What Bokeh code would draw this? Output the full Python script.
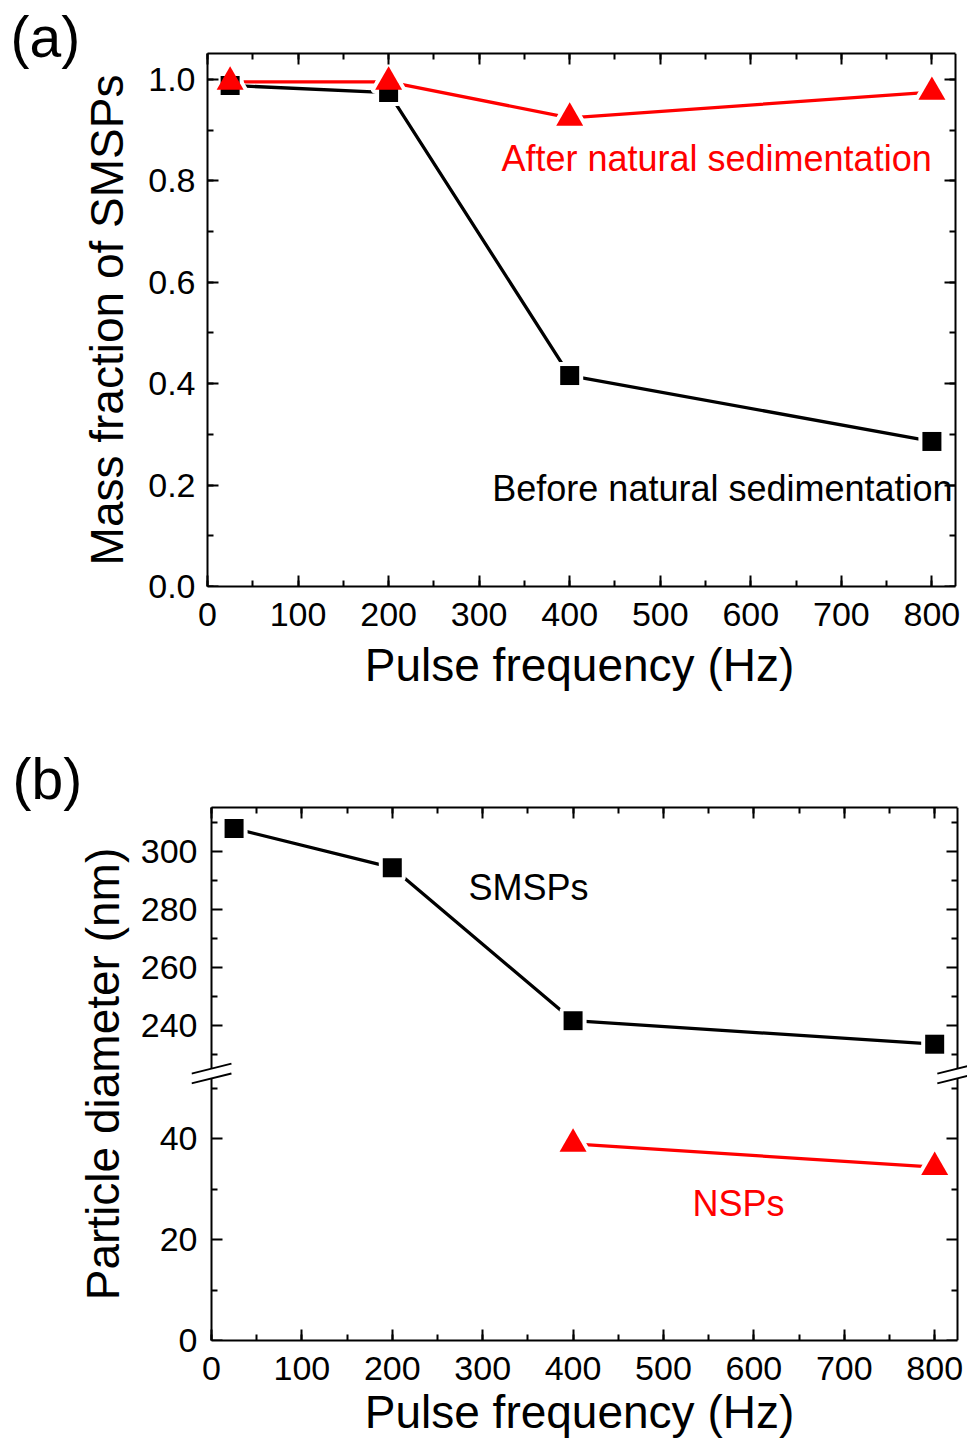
from bokeh.plotting import figure
from bokeh.models import (LinearAxis, Range1d, SingleIntervalTicker, FixedTicker,
                          Label, PrintfTickFormatter)
from bokeh.layouts import column
from bokeh.embed import file_html
from bokeh.resources import INLINE

FONT = "Liberation Sans"

# ---------------- data ----------------
freq = [25, 200, 400, 800]                       # Hz
frac_before = [0.988, 0.974, 0.416, 0.286]       # before natural sedimentation
frac_after = [0.995, 0.995, 0.924, 0.975]        # after natural sedimentation

smsp_freq = [25, 200, 400, 800]
smsp_diam = [307.8, 294.3, 241.7, 233.6]         # nm
nsp_freq = [400, 800]
nsp_diam = [39.0, 34.4]                          # nm

x_major = 100
y_a_major = 0.2
b_low_ticks = [0, 20, 40]
b_low_minor = [10, 30, 50]
b_up_ticks = [240, 260, 280, 300]
b_up_minor = [230, 250, 270, 290, 310]

LW = 3.3


def style_axis(ax, labels=True):
    ax.axis_line_width = 2
    ax.axis_line_color = "black"
    ax.major_tick_line_width = 2
    ax.minor_tick_line_width = 2
    ax.major_tick_line_color = "black"
    ax.minor_tick_line_color = "black"
    ax.major_tick_in = 11
    ax.major_tick_out = 0
    ax.minor_tick_in = 6
    ax.minor_tick_out = 0
    ax.major_label_text_font = FONT
    ax.axis_label_text_font = FONT
    ax.axis_label_text_font_size = "46px"
    ax.axis_label_text_font_style = "normal"
    ax.axis_label_text_color = "black"
    if labels:
        ax.major_label_text_font_size = "34px"
        ax.major_label_text_color = "black"
    else:
        ax.major_label_text_font_size = "1px"
        ax.major_label_text_color = None
        ax.major_label_standoff = 0


def labels_only(ax):
    """Axis that only carries tick labels and the title (no line, no ticks)."""
    style_axis(ax)
    ax.axis_line_color = None
    ax.major_tick_line_color = None
    ax.minor_tick_line_color = None
    ax.major_tick_in = 0
    ax.minor_tick_in = 0


def halo(p, x, y, marker, size, **kw):
    p.scatter(x, y, marker=marker, size=size, fill_color="white",
              line_color="white", line_width=8, line_join="round", **kw)


def panel_title(p, text, offset, standoff):
    p.title.text = text
    p.title.align = "left"
    p.title.offset = offset
    p.title.standoff = standoff
    p.title.text_font = FONT
    p.title.text_font_size = "57px"
    p.title.text_font_style = "normal"
    p.title.text_color = "black"


# both panels share the same frame geometry: 191 px left border, 776 px frame
# (the visible box starts 16-20 px inside the frame to leave room for marks)
FRAME_LEFT, FRAME_W = 191, 776

xt = SingleIntervalTicker(interval=x_major, num_minor_ticks=2)

# ---------------- panel (a) ----------------
XA_LO, XA_HI = 0, 826
YA_END = 1.051
pa = figure(frame_width=FRAME_W, frame_height=533,
            min_border_left=FRAME_LEFT, min_border_right=0,
            min_border_top=53, min_border_bottom=144,
            x_range=Range1d(-17.67, 839.3), y_range=Range1d(0, YA_END),
            x_axis_type=None, y_axis_type=None, title="(a)",
            output_backend="svg", toolbar_location=None)
pa.outline_line_color = None
panel_title(pa, "(a)", offset=-181, standoff=-31)

yt = SingleIntervalTicker(interval=y_a_major, num_minor_ticks=2)

ax = LinearAxis(ticker=xt, bounds=(XA_LO, XA_HI), axis_label="Pulse frequency (Hz)")
style_axis(ax)
ax.major_label_standoff = 16
ax.axis_label_standoff = 10
pa.add_layout(ax, "below")

ax = LinearAxis(ticker=xt, bounds=(XA_LO, XA_HI))
style_axis(ax, labels=False)
pa.add_layout(ax, "above")

for loc, side in ((XA_LO, "left"), (XA_HI, "right")):
    ax = LinearAxis(ticker=yt, fixed_location=loc)
    style_axis(ax, labels=False)
    pa.add_layout(ax, side)

ax = LinearAxis(ticker=yt, axis_label="Mass fraction of SMSPs",
                formatter=PrintfTickFormatter(format="%.1f"))
labels_only(ax)
ax.major_label_standoff = -4
ax.axis_label_standoff = 12
pa.add_layout(ax, "left")

pa.line(freq, frac_before, line_color="black", line_width=LW)
pa.line(freq, frac_after, line_color="red", line_width=LW)
halo(pa, freq, frac_before, "square", 19)
halo(pa, freq, frac_after, "triangle", 27)
pa.scatter(freq, frac_before, marker="square", size=19, fill_color="black", line_color=None)
pa.scatter(freq, frac_after, marker="triangle", size=27, fill_color="red", line_color=None)

pa.add_layout(Label(x=324.6, y=0.8434, text="After natural sedimentation",
                    text_color="red", text_font=FONT, text_font_size="36px",
                    text_baseline="middle"))
pa.add_layout(Label(x=314.5, y=0.193, text="Before natural sedimentation",
                    text_color="black", text_font=FONT, text_font_size="36px",
                    text_baseline="middle"))

# ---------------- panel (b): broken y axis ----------------
XB_LO, XB_HI = 0, 825          # visible box
BREAK_DX = 22.1                # 20 px of x, room for the break marks
YB_END = 105.75                # lower (main) range, spans the whole frame
UP_START, UP_END = 131.71, 315.0
LOW_BOUNDS = (0, 52)
UP_BOUNDS = (225.2, 315.0)

pb = figure(frame_width=FRAME_W, frame_height=533,
            min_border_left=FRAME_LEFT, min_border_right=0,
            min_border_top=77, min_border_bottom=118,
            x_range=Range1d(XB_LO - BREAK_DX, 836.3), y_range=Range1d(0, YB_END),
            x_axis_type=None, y_axis_type=None, title="(b)",
            output_backend="svg", toolbar_location=None)
pb.extra_y_ranges = {"upper": Range1d(UP_START, UP_END)}
pb.outline_line_color = None
panel_title(pb, "(b)", offset=-179, standoff=-7)

lt = FixedTicker(ticks=b_low_ticks, minor_ticks=b_low_minor)
ut = FixedTicker(ticks=b_up_ticks, minor_ticks=b_up_minor)

ax = LinearAxis(ticker=xt, bounds=(XB_LO, XB_HI), axis_label="Pulse frequency (Hz)")
style_axis(ax)
ax.major_label_standoff = 16
ax.axis_label_standoff = 3
pb.add_layout(ax, "below")

ax = LinearAxis(ticker=xt, bounds=(XB_LO, XB_HI))
style_axis(ax, labels=False)
pb.add_layout(ax, "above")

# box sides with ticks (inside the frame, no labels)
for loc, side in ((XB_LO, "left"), (XB_HI, "right")):
    ax = LinearAxis(ticker=lt, bounds=LOW_BOUNDS, fixed_location=loc)
    style_axis(ax, labels=False)
    pb.add_layout(ax, side)
    ax = LinearAxis(ticker=ut, bounds=UP_BOUNDS, y_range_name="upper", fixed_location=loc)
    style_axis(ax, labels=False)
    pb.add_layout(ax, side)


def up_to_main(v):
    return round((v - UP_START) * YB_END / (UP_END - UP_START), 6)


label_ticks = b_low_ticks + [up_to_main(v) for v in b_up_ticks]
ax = LinearAxis(ticker=FixedTicker(ticks=label_ticks, minor_ticks=[]),
                axis_label="Particle diameter (nm)",
                major_label_overrides={up_to_main(v): str(v) for v in b_up_ticks})
labels_only(ax)
ax.major_label_standoff = -6
ax.axis_label_standoff = 9
pb.add_layout(ax, "left")

# axis-break marks
for xc in (XB_LO, XB_HI):
    pb.segment(x0=[xc - BREAK_DX], y0=[UP_BOUNDS[0] - 1.72],
               x1=[xc + BREAK_DX], y1=[UP_BOUNDS[0] + 1.72],
               line_width=2, line_color="black", y_range_name="upper")
    pb.segment(x0=[xc - BREAK_DX], y0=[LOW_BOUNDS[1] - 0.99],
               x1=[xc + BREAK_DX], y1=[LOW_BOUNDS[1] + 0.99],
               line_width=2, line_color="black")

pb.line(smsp_freq, smsp_diam, line_color="black", line_width=LW, y_range_name="upper")
pb.line(nsp_freq, nsp_diam, line_color="red", line_width=LW)
halo(pb, smsp_freq, smsp_diam, "square", 19, y_range_name="upper")
halo(pb, nsp_freq, nsp_diam, "triangle", 27)
pb.scatter(smsp_freq, smsp_diam, marker="square", size=19, fill_color="black",
           line_color=None, y_range_name="upper")
pb.scatter(nsp_freq, nsp_diam, marker="triangle", size=27, fill_color="red", line_color=None)

pb.add_layout(Label(x=284.3, y=287.55, y_range_name="upper", text="SMSPs",
                    text_color="black", text_font=FONT, text_font_size="36px",
                    text_baseline="middle"))
pb.add_layout(Label(x=532, y=27.1, text="NSPs", text_color="red", text_font=FONT,
                    text_font_size="36px", text_baseline="middle"))

layout = column(pa, pb, spacing=0)
open("out.html", "w").write(file_html(layout, INLINE))
